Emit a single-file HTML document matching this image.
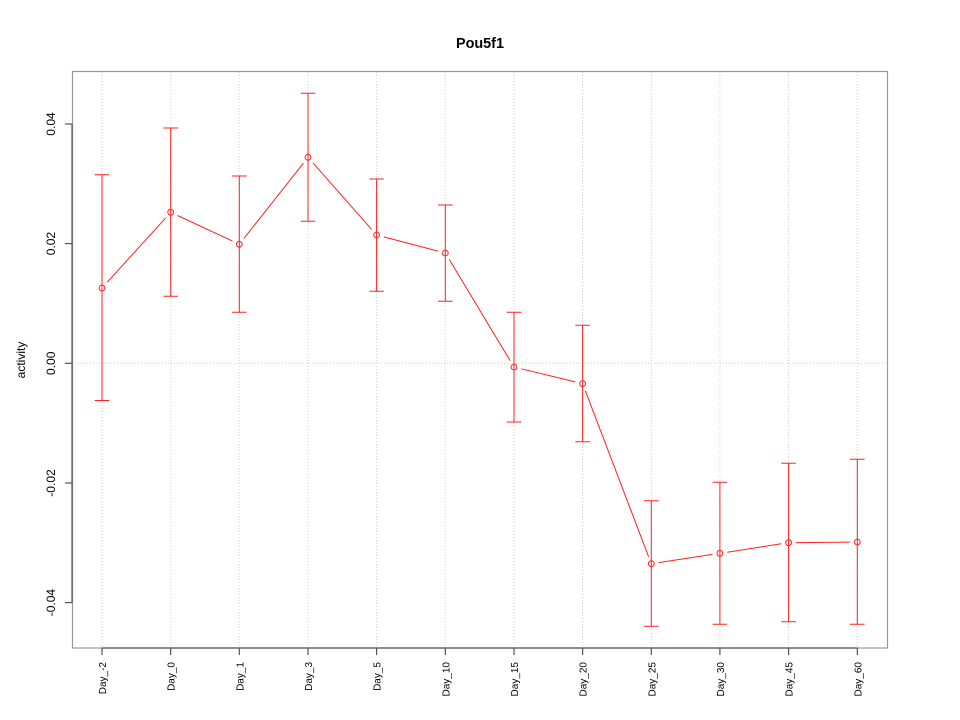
<!DOCTYPE html>
<html><head><meta charset="utf-8"><style>
html,body{margin:0;padding:0;background:#fff;}
svg{display:block;}
text{font-family:"Liberation Sans",Arial,sans-serif;fill:#000;}
</style></head><body>
<svg width="960" height="720" viewBox="0 0 960 720" xmlns="http://www.w3.org/2000/svg">
<rect width="960" height="720" fill="#fff"/>
<text x="480" y="48" font-size="14.4" font-weight="bold" text-anchor="middle">Pou5f1</text>
<g stroke="#cfcfcf" stroke-width="1" stroke-dasharray="1,2" fill="none">
<line x1="102" y1="72" x2="102" y2="648"/>
<line x1="170.7" y1="72" x2="170.7" y2="648"/>
<line x1="239.3" y1="72" x2="239.3" y2="648"/>
<line x1="308" y1="72" x2="308" y2="648"/>
<line x1="376.6" y1="72" x2="376.6" y2="648"/>
<line x1="445.3" y1="72" x2="445.3" y2="648"/>
<line x1="514" y1="72" x2="514" y2="648"/>
<line x1="582.6" y1="72" x2="582.6" y2="648"/>
<line x1="651.3" y1="72" x2="651.3" y2="648"/>
<line x1="719.9" y1="72" x2="719.9" y2="648"/>
<line x1="788.6" y1="72" x2="788.6" y2="648"/>
<line x1="857.3" y1="72" x2="857.3" y2="648"/>
<line x1="72" y1="363.3" x2="888" y2="363.3"/>
</g>
<rect x="72.5" y="71.5" width="815" height="576.5" fill="none" stroke="#999" stroke-width="1.2"/>
<g stroke="#555" stroke-width="1.2" fill="none">
<line x1="102" y1="648" x2="857.3" y2="648"/>
<line x1="72" y1="124" x2="72" y2="602.6"/>
<line x1="102" y1="648" x2="102" y2="655"/>
<line x1="170.7" y1="648" x2="170.7" y2="655"/>
<line x1="239.3" y1="648" x2="239.3" y2="655"/>
<line x1="308" y1="648" x2="308" y2="655"/>
<line x1="376.6" y1="648" x2="376.6" y2="655"/>
<line x1="445.3" y1="648" x2="445.3" y2="655"/>
<line x1="514" y1="648" x2="514" y2="655"/>
<line x1="582.6" y1="648" x2="582.6" y2="655"/>
<line x1="651.3" y1="648" x2="651.3" y2="655"/>
<line x1="719.9" y1="648" x2="719.9" y2="655"/>
<line x1="788.6" y1="648" x2="788.6" y2="655"/>
<line x1="857.3" y1="648" x2="857.3" y2="655"/>
<line x1="65" y1="124" x2="72" y2="124"/>
<line x1="65" y1="243.6" x2="72" y2="243.6"/>
<line x1="65" y1="363.3" x2="72" y2="363.3"/>
<line x1="65" y1="483" x2="72" y2="483"/>
<line x1="65" y1="602.6" x2="72" y2="602.6"/>
</g>
<g font-size="12" text-anchor="middle">
<text x="55" y="124" transform="rotate(-90 55 124)">0.04</text>
<text x="55" y="243.6" transform="rotate(-90 55 243.6)">0.02</text>
<text x="55" y="363.3" transform="rotate(-90 55 363.3)">0.00</text>
<text x="55" y="483" transform="rotate(-90 55 483)">-0.02</text>
<text x="55" y="602.6" transform="rotate(-90 55 602.6)">-0.04</text>
<text x="25" y="360" transform="rotate(-90 25 360)">activity</text>
</g>
<g font-size="10" text-anchor="end">
<text x="106" y="662" transform="rotate(-90 106 662)">Day_-2</text>
<text x="174.7" y="662" transform="rotate(-90 174.7 662)">Day_0</text>
<text x="243.3" y="662" transform="rotate(-90 243.3 662)">Day_1</text>
<text x="312" y="662" transform="rotate(-90 312 662)">Day_3</text>
<text x="380.6" y="662" transform="rotate(-90 380.6 662)">Day_5</text>
<text x="449.3" y="662" transform="rotate(-90 449.3 662)">Day_10</text>
<text x="518" y="662" transform="rotate(-90 518 662)">Day_15</text>
<text x="586.6" y="662" transform="rotate(-90 586.6 662)">Day_20</text>
<text x="655.3" y="662" transform="rotate(-90 655.3 662)">Day_25</text>
<text x="723.9" y="662" transform="rotate(-90 723.9 662)">Day_30</text>
<text x="792.6" y="662" transform="rotate(-90 792.6 662)">Day_45</text>
<text x="861.3" y="662" transform="rotate(-90 861.3 662)">Day_60</text>
</g>
<g stroke="#ff2020" stroke-width="1" fill="none">
<!-- error bars -->
<path d="M102 174.7V400.5M94.7 174.7H109.3M94.7 400.5H109.3"/>
<path d="M170.7 128V296.3M163.4 128H178M163.4 296.3H178"/>
<path d="M239.3 176V312.3M232 176H246.6M232 312.3H246.6"/>
<path d="M308 93.3V221.3M300.7 93.3H315.3M300.7 221.3H315.3"/>
<path d="M376.6 179V291.3M369.3 179H383.9M369.3 291.3H383.9"/>
<path d="M445.3 205V301.3M438 205H452.6M438 301.3H452.6"/>
<path d="M514 312.3V422M506.7 312.3H521.3M506.7 422H521.3"/>
<path d="M582.6 325.3V441.7M575.3 325.3H589.9M575.3 441.7H589.9"/>
<path d="M651.3 500.7V626.3M644 500.7H658.6M644 626.3H658.6"/>
<path d="M719.9 482.3V624.3M712.6 482.3H727.2M712.6 624.3H727.2"/>
<path d="M788.6 463.3V621.7M781.3 463.3H795.9M781.3 621.7H795.9"/>
<path d="M857.3 459.3V624.3M850 459.3H864.6M850 624.3H864.6"/>
<!-- line segments -->
<path d="M107 282.4L165.7 217.9"/>
<path d="M177.5 215.5L232.5 241.1"/>
<path d="M243.9 238.4L303.4 163.2"/>
<path d="M313 162.9L371.6 229.4"/>
<path d="M383.9 236.9L438 251.1"/>
<path d="M449.2 259.4L510.1 360.6"/>
<path d="M521.3 368.8L575.3 381.9"/>
<path d="M585.3 390.7L648.6 556.7"/>
<path d="M658.7 562.6L712.5 554.4"/>
<path d="M727.3 552.2L781.2 543.8"/>
<path d="M796.1 542.6L849.8 542.1"/>
<!-- points -->
<circle cx="102" cy="288" r="2.9"/>
<circle cx="170.7" cy="212.3" r="2.9"/>
<circle cx="239.3" cy="244.3" r="2.9"/>
<circle cx="308" cy="157.3" r="2.9"/>
<circle cx="376.6" cy="235" r="2.9"/>
<circle cx="445.3" cy="253" r="2.9"/>
<circle cx="514" cy="367" r="2.9"/>
<circle cx="582.6" cy="383.7" r="2.9"/>
<circle cx="651.3" cy="563.7" r="2.9"/>
<circle cx="719.9" cy="553.3" r="2.9"/>
<circle cx="788.6" cy="542.7" r="2.9"/>
<circle cx="857.3" cy="542" r="2.9"/>
</g>
</svg>
</body></html>
